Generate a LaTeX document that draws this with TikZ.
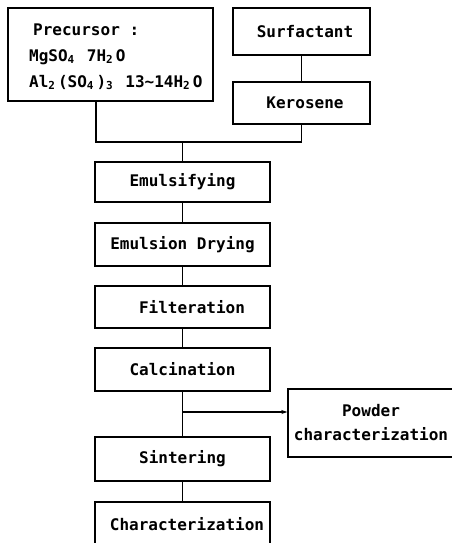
\documentclass[tikz,border=0pt]{standalone}
\usepackage{fontspec}
\newfontfamily\dmono{DejaVu Sans Mono}
\usetikzlibrary{arrows.meta}
\newcommand\sbs[1]{\makebox[9.6pt][l]{\raisebox{-1.5pt}{\fontsize{11}{11}\selectfont #1}}}
\begin{document}
\begin{tikzpicture}[x=1pt,y=-1pt,
  txt/.style={inner sep=0pt, font=\dmono\bfseries\fontsize{16}{24}\selectfont},
  box/.style={txt, draw, line width=1.4pt, minimum width=175pt},
  conn/.style={line width=1.4pt},
  arr/.style={conn, -{Stealth[length=6pt,width=4pt]}}]
\useasboundingbox (0,0) rectangle (452,543);
\clip (0,0) rectangle (452,543);
% top boxes
\node[box, minimum width=205pt, minimum height=93pt] (pre) at (110.5,54.5) {};
\node[txt, anchor=base west] (pre1) at (33,36) {Precursor :};
\node[txt, anchor=base west] (pre2) at (29,62) {MgSO\sbs{4} 7H\sbs{2}O};
\node[txt, anchor=base west] (pre3) at (29,88) {Al\sbs{2}(SO\sbs{4})\sbs{3} 13\char`~14H\sbs{2}O};
\node[box, minimum width=137pt, minimum height=47pt] (sur) at (301.5,31.5) {\hspace{7pt}Surfactant};
\node[box, minimum width=137pt, minimum height=42pt] (ker) at (301.5,103) {\hspace{7pt}Kerosene};
% main column
\node[box, minimum height=40pt] (emu) at (182.5,182) {Emulsifying};
\node[box, minimum height=43pt] (dry) at (182.5,244.5) {Emulsion Drying};
\node[box, minimum height=42pt] (fil) at (182.5,307) {\hspace{19pt}Filteration};
\node[box, minimum height=43pt] (cal) at (182.5,369.5) {Calcination};
\node[box, minimum height=44pt] (sin) at (182.5,459) {Sintering};
\node[box, minimum height=44pt] (cha) at (182.5,524) {\hspace{9pt}Characterization};
\node[box, minimum width=166pt, minimum height=68pt, align=center] (pow) at (371,423) {Powder\\characterization};
% connectors
\coordinate (j1) at (96,142);
\coordinate (j2) at (301.5,142);
\coordinate (jm) at (182.5,142);
\coordinate (br) at (182.5,412);
\draw[conn] (sur) -- (ker);
\draw[conn] (pre.south -| j1) -- (j1) -- (j2) -- (ker.south);
\draw[conn] (jm) -- (emu.north);
\draw[conn] (emu) -- (dry);
\draw[conn] (dry) -- (fil);
\draw[conn] (fil) -- (cal);
\draw[conn] (cal) -- (sin);
\draw[conn] (sin) -- (cha);
\draw[arr] (br) -- (br -| pow.west);
\end{tikzpicture}
\end{document}
